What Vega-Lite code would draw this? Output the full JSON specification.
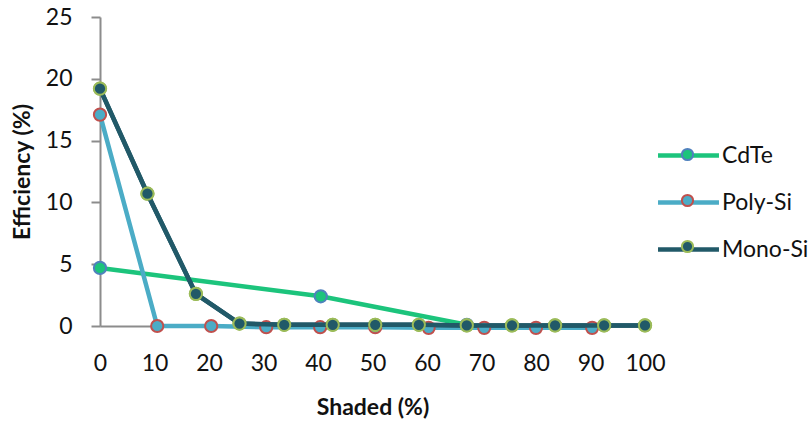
{
  "$schema": "https://vega.github.io/schema/vega-lite/v6.json",
  "width": 545,
  "height": 309,
  "autosize": {"type": "none"},
  "padding": {"left": 100, "top": 17, "right": 166, "bottom": 97},
  "background": "white",
  "config": {
    "view": {"stroke": null},
    "axis": {
      "grid": false,
      "labelFont": "Lato",
      "labelFontSize": 23,
      "labelColor": "#111111",
      "titleFont": "Lato",
      "titleFontSize": 23,
      "titleFontWeight": "bold",
      "titleColor": "#111111",
      "domainColor": "#8c8c8c",
      "domainWidth": 2,
      "tickColor": "#8c8c8c",
      "tickWidth": 2
    },
    "legend": {
      "labelFont": "Lato",
      "labelFontSize": 23,
      "labelColor": "#111111"
    }
  },
  "data": {
    "values": [
      {"series": "CdTe", "shaded": 0, "eff": 4.7},
      {"series": "CdTe", "shaded": 40.5, "eff": 2.4},
      {"series": "CdTe", "shaded": 67.3, "eff": 0.1},
      {"series": "Poly-Si", "shaded": 0, "eff": 17.1},
      {"series": "Poly-Si", "shaded": 10.5, "eff": 0},
      {"series": "Poly-Si", "shaded": 20.4, "eff": 0},
      {"series": "Poly-Si", "shaded": 30.5, "eff": -0.1},
      {"series": "Poly-Si", "shaded": 40.4, "eff": -0.1},
      {"series": "Poly-Si", "shaded": 50.5, "eff": -0.1},
      {"series": "Poly-Si", "shaded": 60.3, "eff": -0.15},
      {"series": "Poly-Si", "shaded": 70.5, "eff": -0.15},
      {"series": "Poly-Si", "shaded": 80, "eff": -0.15},
      {"series": "Poly-Si", "shaded": 90.3, "eff": -0.15},
      {"series": "Mono-Si", "shaded": 0, "eff": 19.2},
      {"series": "Mono-Si", "shaded": 8.7, "eff": 10.7},
      {"series": "Mono-Si", "shaded": 17.6, "eff": 2.6},
      {"series": "Mono-Si", "shaded": 25.6, "eff": 0.2},
      {"series": "Mono-Si", "shaded": 33.8, "eff": 0.1},
      {"series": "Mono-Si", "shaded": 42.7, "eff": 0.1},
      {"series": "Mono-Si", "shaded": 50.5, "eff": 0.1},
      {"series": "Mono-Si", "shaded": 58.5, "eff": 0.1},
      {"series": "Mono-Si", "shaded": 67.3, "eff": 0.05},
      {"series": "Mono-Si", "shaded": 75.6, "eff": 0.05},
      {"series": "Mono-Si", "shaded": 83.5, "eff": 0.05},
      {"series": "Mono-Si", "shaded": 92.5, "eff": 0.05},
      {"series": "Mono-Si", "shaded": 100, "eff": 0.05}
    ]
  },
  "encoding": {
    "x": {
      "field": "shaded", "type": "quantitative",
      "scale": {"domain": [0, 100], "nice": false},
      "axis": {"title": "Shaded (%)", "values": [0,10,20,30,40,50,60,70,80,90,100], "ticks": false, "labelPadding": 26, "titlePadding": 21, "labelFlush": false}
    },
    "y": {
      "field": "eff", "type": "quantitative",
      "scale": {"domain": [0, 25], "nice": false},
      "axis": {"title": "Efficiency (%)", "values": [0,5,10,15,20,25], "tickSize": 9, "labelPadding": 19, "titlePadding": 11}
    }
  },
  "layer": [
    {
      "mark": {"type": "line", "strokeWidth": 4.5},
      "encoding": {
        "color": {
          "field": "series", "type": "nominal",
          "scale": {"domain": ["CdTe", "Poly-Si", "Mono-Si"], "range": ["#1cc47c", "#4bacc6", "#215968"]},
          "legend": {
            "title": null, "orient": "none", "legendX": 576, "legendY": 126,
            "symbolType": "M-3,0H3", "symbolSize": 413, "symbolStrokeWidth": 4.5,
            "labelOffset": 21, "rowPadding": 22
          }
        }
      }
    },
    {
      "mark": {"type": "point", "filled": true, "opacity": 1, "size": 150, "strokeWidth": 2},
      "encoding": {
        "fill": {
          "field": "series", "type": "nominal", "sort": ["CdTe", "Poly-Si", "Mono-Si"],
          "scale": {"range": ["#1cc47c", "#4bacc6", "#215968"]},
          "legend": {
            "title": null, "orient": "none", "legendX": 576, "legendY": 126,
            "symbolType": "M0.55,0A0.55,0.55,0,1,1,-0.55,0A0.55,0.55,0,1,1,0.55,0Z", "symbolSize": 413, "symbolStrokeWidth": 2,
            "symbolStrokeColor": "transparent",
            "labelOffset": 21, "rowPadding": 22, "labelExpr": "''"
          }
        },
        "stroke": {
          "field": "series", "type": "nominal", "sort": ["CdTe", "Poly-Si", "Mono-Si"],
          "scale": {"range": ["#4f81bd", "#c0504d", "#9bbb59"]},
          "legend": {
            "title": null, "orient": "none", "legendX": 576, "legendY": 126,
            "symbolType": "M0.55,0A0.55,0.55,0,1,1,-0.55,0A0.55,0.55,0,1,1,0.55,0Z", "symbolSize": 413, "symbolStrokeWidth": 2,
            "symbolFillColor": "transparent",
            "labelOffset": 21, "rowPadding": 22, "labelExpr": "''"
          }
        }
      }
    },
    {
      "transform": [{"filter": "datum.series === 'Mono-Si'"}],
      "mark": {"type": "line", "strokeWidth": 4.5, "color": "#215968"},
      "encoding": {}
    },
    {
      "transform": [{"filter": "datum.series === 'Mono-Si'"}],
      "mark": {"type": "point", "filled": true, "opacity": 1, "size": 150, "strokeWidth": 2, "fill": "#215968", "stroke": "#9bbb59"},
      "encoding": {}
    }
  ]
}
